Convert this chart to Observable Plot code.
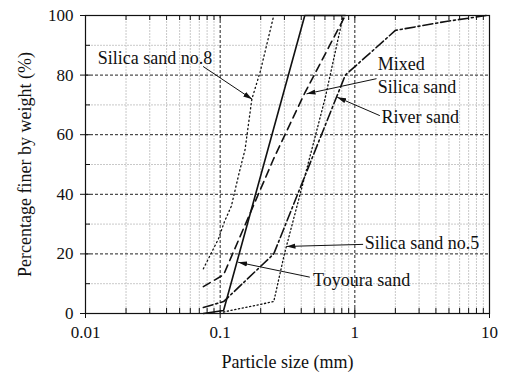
<!DOCTYPE html>
<html>
<head>
<meta charset="utf-8">
<script src="https://cdn.jsdelivr.net/npm/d3@7"></script>
<script src="https://cdn.jsdelivr.net/npm/@observablehq/plot@0.6"></script>
<style>
  html, body { margin: 0; padding: 0; background: #fff; }
  #chart svg { display: block; }
</style>
</head>
<body>
<div id="chart"></div>
<script>
// Grain size distribution curves (particle size in mm, percent finer by weight)
const toyouraSize  = [0.075, 0.106, 0.425, 0.85];
const toyouraFiner = [0, 1, 100, 100];

const silica8Size  = [0.075, 0.097, 0.108, 0.121, 0.138, 0.153, 0.172, 0.198, 0.25];
const silica8Finer = [15, 25, 31, 36, 47, 55, 72, 81, 100];

const mixedSize  = [0.075, 0.106, 0.25, 0.425, 0.85];
const mixedFiner = [9, 13, 52, 74, 100];

const riverSize  = [0.075, 0.106, 0.25, 0.85, 2, 4.75, 9.5];
const riverFiner = [2, 4, 20, 80, 95, 98, 100];

const silica5Size  = [0.106, 0.25, 0.3, 0.425, 0.6, 0.82];
const silica5Finer = [0.5, 4, 20, 46, 72, 100];

// Axis ticks
const xTicks = [0.01, 0.1, 1, 10];
const xTickLabels = ["0.01", "0.1", "1", "10"];
const yTicks = [0, 20, 40, 60, 80, 100];
const yMinor = [10, 30, 50, 70, 90];
const xMinor = [];
for (const decade of [0.01, 0.1, 1]) for (let k = 2; k <= 9; k++) xMinor.push(+(decade * k).toPrecision(3));

// Curve labels with leader arrows
const labelText = ["Silica sand no.8", "Mixed", "Silica sand", "River sand", "Silica sand no.5", "Toyoura sand"];
const labelX = [0.01235, 1.482, 1.482, 1.578, 1.187, 0.490];
const labelY = [85.5, 83.8, 75.8, 65.9, 23.7, 11.3];

const arrowX1 = [0.0747, 1.449, 1.533, 1.152, 0.463];
const arrowY1 = [82.9, 78.8, 66.4, 23.2, 12.2];
const arrowX2 = [0.1727, 0.4378, 0.739, 0.311, 0.136];
const arrowY2 = [71.9, 73.7, 72.6, 22.5, 17.2];

const series = (size, finer) => size.map((x, i) => ({x, y: finer[i]}));
const labels = labelText.map((t, i) => ({t, x: labelX[i], y: labelY[i]}));
const arrows = arrowX1.map((x1, i) => ({x1, y1: arrowY1[i], x2: arrowX2[i], y2: arrowY2[i]}));

const ink = "#111";
const frameW = 506 - 85 - 17;   // plot area width in px
const frameH = 372 - 15 - 59;   // plot area height in px
const tickLen = 5;

// solid triangular arrowhead for the leader lines
function filledArrow(color, context) {
  const ns = "http://www.w3.org/2000/svg";
  const marker = context.document.createElementNS(ns, "marker");
  marker.setAttribute("viewBox", "-9 -3 9 6");
  marker.setAttribute("markerWidth", 9);
  marker.setAttribute("markerHeight", 6);
  marker.setAttribute("markerUnits", "userSpaceOnUse");
  marker.setAttribute("orient", "auto");
  const path = context.document.createElementNS(ns, "path");
  path.setAttribute("d", "M-9,-2.6L0,0L-9,2.6Z");
  path.setAttribute("fill", color);
  path.setAttribute("stroke", "none");
  marker.appendChild(path);
  return marker;
}

const chart = Plot.plot({
  width: 506,
  height: 372,
  marginLeft: 85,
  marginRight: 17,
  marginTop: 15,
  marginBottom: 59,
  style: {fontFamily: "'Liberation Serif', 'Times New Roman', serif", fontSize: "17px", background: "#fff", color: ink},
  x: {type: "log", domain: [0.01, 10]},
  y: {domain: [0, 100]},
  axis: null,
  marks: [
    // light minor grid
    Plot.gridX(xMinor, {stroke: "#bbb", strokeOpacity: 1, strokeWidth: 0.8, strokeDasharray: "2,1"}),
    Plot.gridY(yMinor, {stroke: "#bbb", strokeOpacity: 1, strokeWidth: 0.8, strokeDasharray: "2,1"}),
    // dark major grid
    Plot.gridX([0.1, 1], {stroke: "#222", strokeOpacity: 1, strokeWidth: 1, strokeDasharray: "3,2"}),
    Plot.gridY([20, 40, 60, 80], {stroke: "#222", strokeOpacity: 1, strokeWidth: 1, strokeDasharray: "3,2"}),

    // curves
    Plot.line(series(silica8Size, silica8Finer), {x: "x", y: "y", stroke: ink, strokeWidth: 1.3, strokeDasharray: "1.2,3", strokeLinecap: "round"}),
    Plot.line(series(silica5Size, silica5Finer), {x: "x", y: "y", stroke: ink, strokeWidth: 1.3, strokeDasharray: "1.2,2.6", strokeLinecap: "round"}),
    Plot.line(series(mixedSize, mixedFiner), {x: "x", y: "y", stroke: ink, strokeWidth: 1.6, strokeDasharray: "8,5"}),
    Plot.line(series(riverSize, riverFiner), {x: "x", y: "y", stroke: ink, strokeWidth: 1.6, strokeDasharray: "10,3,2,3"}),
    Plot.line(series(toyouraSize, toyouraFiner), {x: "x", y: "y", stroke: ink, strokeWidth: 1.6}),

    // outward major ticks with labels
    Plot.axisX(xTicks, {anchor: "bottom", tickSize: tickLen, tickPadding: 7, tickFormat: d => xTickLabels[xTicks.indexOf(d)], label: null, stroke: ink}),
    Plot.axisY(yTicks, {anchor: "left", tickSize: tickLen, tickPadding: 7, label: null, stroke: ink}),
    // inward ticks along the bottom, top and left edges
    Plot.ruleX([...xTicks, ...xMinor], {stroke: ink, strokeWidth: 1, insetTop: frameH - tickLen}),
    Plot.ruleX([...xTicks, ...xMinor], {stroke: ink, strokeWidth: 1, insetBottom: frameH - tickLen}),
    Plot.ruleY([...yTicks, ...yMinor], {stroke: ink, strokeWidth: 1, insetRight: frameW - tickLen}),
    Plot.frame({stroke: ink, strokeWidth: 1.2}),

    // axis titles
    Plot.text(["Particle size (mm)"], {frameAnchor: "bottom", text: d => d, dy: 49, lineAnchor: "middle", textAnchor: "middle", fontSize: 18, fill: ink}),
    Plot.text(["Percentage finer by weight (%)"], {frameAnchor: "left", text: d => d, dx: -60, rotate: -90, lineAnchor: "middle", textAnchor: "middle", fontSize: 18, fill: ink}),

    // annotations
    Plot.link(arrows, {x1: "x1", y1: "y1", x2: "x2", y2: "y2", stroke: ink, strokeWidth: 1, markerEnd: filledArrow}),
    Plot.text(labels, {x: "x", y: "y", text: "t", textAnchor: "start", lineAnchor: "middle", fontSize: 18, fill: ink})
  ]
});

document.getElementById("chart").appendChild(chart);
</script>
</body>
</html>
